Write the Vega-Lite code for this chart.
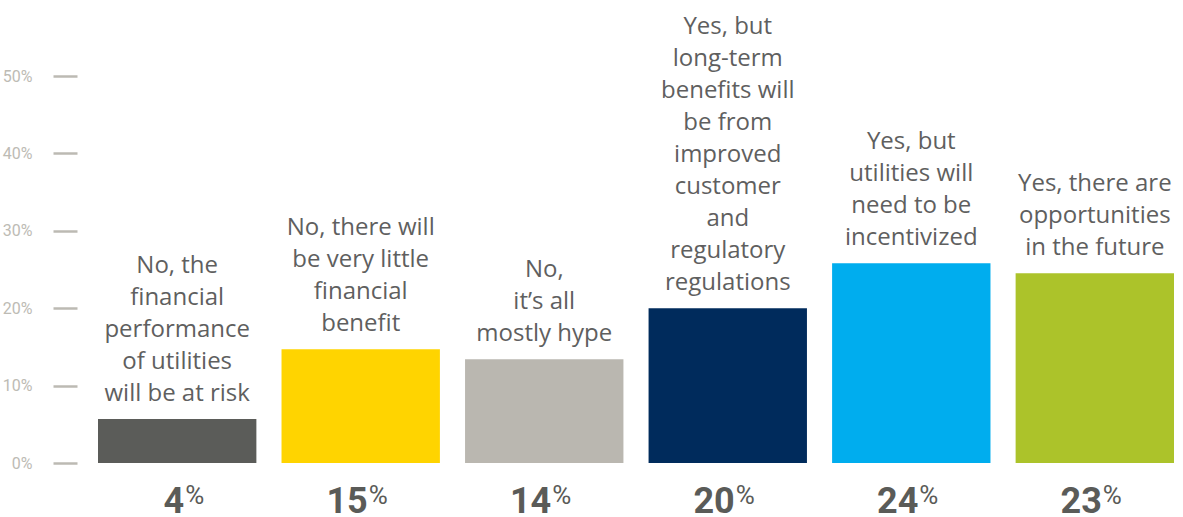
{
  "$schema": "https://vega.github.io/schema/vega-lite/v6.json",
  "width": 1076,
  "height": 463,
  "autosize": "none",
  "padding": {"left": 98, "top": 0, "right": 9, "bottom": 54},
  "background": "white",
  "config": {"view": {"stroke": null}},
  "data": {
    "values": [
      {"lines": ["No, the", "financial", "performance", "of utilities", "will be at risk"], "value": 5.7, "shown": "4", "order": 1},
      {"lines": ["No, there will", "be very little", "financial", "benefit"], "value": 14.7, "shown": "15", "order": 2},
      {"lines": ["No,", "it’s all", "mostly hype"], "value": 13.4, "shown": "14", "order": 3},
      {"lines": ["Yes, but", "long-term", "benefits will", "be from", "improved", "customer", "and", "regulatory", "regulations"], "value": 20.0, "shown": "20", "order": 4},
      {"lines": ["Yes, but", "utilities will", "need to be", "incentivized"], "value": 25.8, "shown": "24", "order": 5},
      {"lines": ["Yes, there are", "opportunities", "in the future"], "value": 24.5, "shown": "23", "order": 6}
    ]
  },
  "encoding": {
    "x": {
      "field": "order",
      "type": "ordinal",
      "axis": null,
      "scale": {"paddingInner": 0.137, "paddingOuter": 0}
    }
  },
  "layer": [
    {
      "mark": {"type": "bar", "cornerRadius": 0},
      "encoding": {
        "y": {
          "field": "value",
          "type": "quantitative",
          "scale": {"domain": [0, 59.82], "nice": false},
          "axis": {
            "values": [0, 10, 20, 30, 40, 50],
            "labelExpr": "datum.value + '%'",
            "domain": false,
            "grid": false,
            "title": null,
            "ticks": true,
            "tickColor": "#bcbab3",
            "tickWidth": 2.5,
            "tickSize": 24,
            "offset": 21,
            "labelPadding": 21,
            "labelFont": "Roboto",
            "labelFontSize": 16,
            "labelColor": "#bdbbb4"
          }
        },
        "color": {
          "field": "order",
          "type": "nominal",
          "legend": null,
          "scale": {
            "domain": [1, 2, 3, 4, 5, 6],
            "range": ["#5b5c59", "#ffd400", "#bab7b0", "#002b5c", "#00adee", "#acc32a"]
          }
        }
      }
    },
    {
      "transform": [
        {"flatten": ["lines"], "as": ["line"]},
        {"window": [{"op": "row_number", "as": "k"}], "groupby": ["order"]},
        {"window": [{"op": "row_number", "as": "up"}], "groupby": ["order"], "sort": [{"field": "k", "order": "descending"}]}
      ],
      "encoding": {
        "y": {"field": "value", "type": "quantitative"},
        "text": {"field": "line", "type": "nominal"}
      },
      "layer": [
        {"transform": [{"filter": "datum.up == 1"}], "mark": {"type": "text", "baseline": "alphabetic", "align": "center", "dy": -18, "font": "Open Sans", "fontSize": 24, "color": "#5f5f5f"}},
        {"transform": [{"filter": "datum.up == 2"}], "mark": {"type": "text", "baseline": "alphabetic", "align": "center", "dy": -50, "font": "Open Sans", "fontSize": 24, "color": "#5f5f5f"}},
        {"transform": [{"filter": "datum.up == 3"}], "mark": {"type": "text", "baseline": "alphabetic", "align": "center", "dy": -82, "font": "Open Sans", "fontSize": 24, "color": "#5f5f5f"}},
        {"transform": [{"filter": "datum.up == 4"}], "mark": {"type": "text", "baseline": "alphabetic", "align": "center", "dy": -114, "font": "Open Sans", "fontSize": 24, "color": "#5f5f5f"}},
        {"transform": [{"filter": "datum.up == 5"}], "mark": {"type": "text", "baseline": "alphabetic", "align": "center", "dy": -146, "font": "Open Sans", "fontSize": 24, "color": "#5f5f5f"}},
        {"transform": [{"filter": "datum.up == 6"}], "mark": {"type": "text", "baseline": "alphabetic", "align": "center", "dy": -178, "font": "Open Sans", "fontSize": 24, "color": "#5f5f5f"}},
        {"transform": [{"filter": "datum.up == 7"}], "mark": {"type": "text", "baseline": "alphabetic", "align": "center", "dy": -210, "font": "Open Sans", "fontSize": 24, "color": "#5f5f5f"}},
        {"transform": [{"filter": "datum.up == 8"}], "mark": {"type": "text", "baseline": "alphabetic", "align": "center", "dy": -242, "font": "Open Sans", "fontSize": 24, "color": "#5f5f5f"}},
        {"transform": [{"filter": "datum.up == 9"}], "mark": {"type": "text", "baseline": "alphabetic", "align": "center", "dy": -274, "font": "Open Sans", "fontSize": 24, "color": "#5f5f5f"}}
      ]
    },
    {
      "mark": {
        "type": "text",
        "baseline": "alphabetic",
        "align": "right",
        "dx": 7,
        "dy": 50,
        "font": "Roboto",
        "fontWeight": "bold",
        "fontSize": 36,
        "color": "#5a5b58"
      },
      "encoding": {
        "y": {"datum": 0, "type": "quantitative"},
        "text": {"field": "shown", "type": "nominal"}
      }
    },
    {
      "mark": {
        "type": "text",
        "baseline": "alphabetic",
        "align": "left",
        "dx": 8,
        "dy": 41,
        "font": "Roboto",
        "fontSize": 26,
        "color": "#5a5b58",
        "text": "%"
      },
      "encoding": {
        "y": {"datum": 0, "type": "quantitative"}
      }
    }
  ]
}
